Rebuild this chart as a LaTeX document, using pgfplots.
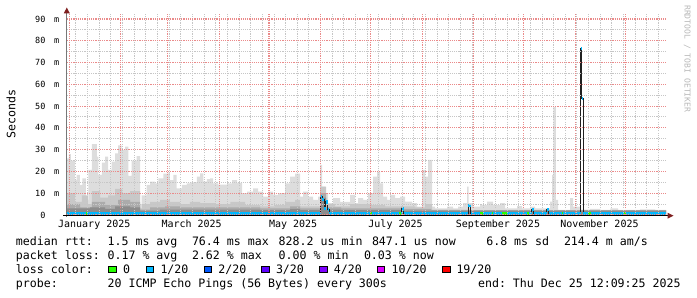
\documentclass[border=0pt]{standalone}
\usepackage{pgfplots}
\pgfplotsset{compat=1.18}
\usepackage{fontspec}
\setmonofont{DejaVu Sans Mono}
\definecolor{smokeA}{HTML}{DDDDDD}
\definecolor{smokeB}{HTML}{C8C8C8}
\definecolor{smokeC}{HTML}{ABABAB}
\definecolor{smokeD}{HTML}{8C8C8C}
\definecolor{lossA}{HTML}{26FF00}
\definecolor{lossB}{HTML}{00B8FF}
\definecolor{lossC}{HTML}{0059FF}
\definecolor{lossD}{HTML}{5E00FF}
\definecolor{lossE}{HTML}{7E00FF}
\definecolor{lossF}{HTML}{DD00FF}
\definecolor{lossG}{HTML}{FF0000}
\definecolor{mgrid}{HTML}{EA8A8A}
\definecolor{ngrid}{HTML}{C6C6C6}
\definecolor{arrowc}{HTML}{7F1F1F}
\definecolor{yaxisc}{HTML}{777777}
\definecolor{wmark}{HTML}{B8B8B8}
\definecolor{medc}{HTML}{202020}
\newcommand{\legfont}{\fontsize{11.6bp}{14bp}\selectfont\ttfamily}
\begin{document}
\begin{tikzpicture}[x=1bp,y=1bp]
\useasboundingbox (0,0) rectangle (697,297);
\begin{axis}[
  at={(66.8bp,82bp)}, anchor=south west,
  scale only axis, width=599.2bp, height=202.1bp,
  xmin=-1.5, xmax=358.5, ymin=0, ymax=92.8,
  axis on top,
  axis line style={draw=none},
  major tick length=0pt, minor tick length=0pt,
  tick style={draw=none},
  xtick={15,73.5,134.5,196,257.5,318.5},
  xticklabels={January 2025,March 2025,May 2025,July 2025,September 2025,November 2025},
  xticklabel style={font=\fontsize{10bp}{12bp}\selectfont\ttfamily, anchor=base, inner sep=0pt, yshift=-12.9bp},
  minor xtick={4,11,...,354},
  extra x ticks={0,31,59,90,120,151,181,212,243,273,304,334},
  extra x tick labels={},
  extra x tick style={grid=major},
  xminorgrids=true,
  ytick={0,10,...,90},
  yticklabels={0\hspace{8.7bp}\hphantom{m},10\hspace{8.7bp}m,20\hspace{8.7bp}m,30\hspace{8.7bp}m,40\hspace{8.7bp}m,50\hspace{8.7bp}m,60\hspace{8.7bp}m,70\hspace{8.7bp}m,80\hspace{8.7bp}m,90\hspace{8.7bp}m},
  yticklabel style={font=\fontsize{8.5bp}{10bp}\selectfont\ttfamily, anchor=east, inner sep=0pt, xshift=-7.4bp},
  minor ytick={5,15,...,85},
  ymajorgrids=true, yminorgrids=true,
  major grid style={mgrid, line width=1.1bp, dash pattern=on 1.1bp off 1.1bp},
  minor grid style={ngrid, line width=1bp, dash pattern=on 1.1bp off 1.1bp},
]
% lightest smoke (max ping)
\addplot[const plot mark left, fill=smokeA, draw=none] coordinates {
(-1.5,26) (-0.2,28) (1.0,25) (3.4,16) (4.4,18.4) (6.4,13.8) (7.8,16.8) (9.9,7) (11.4,20.7) (13.5,32.6) (16.5,26.8) (17.4,18.4) (19.5,24) (21.5,26.8) (23.4,20.7) (25.5,24.5) (27.5,28.3) (29.4,32) (31.5,29.8) (33.5,31.4) (35.5,18) (37.5,25) (40.5,27) (42.5,5) (43.5,9) (46.5,13.8) (48.5,15.3) (51.5,14.5) (53.5,16.8) (56.5,19) (59.5,19.5) (60.5,16) (62.5,18.4) (64.5,12.2) (67.6,13.8) (70.6,14.5) (72.5,15) (76.6,17.6) (78.6,19.1) (80.5,15.3) (82.6,16.5) (84.6,16.8) (86.4,14.5) (89.4,14) (94.8,14.5) (97.8,16) (100.8,14.8) (103.8,10) (106.8,10.7) (110.4,12.2) (113.4,10.7) (116.4,8.4) (119.4,10.7) (122.4,9.2) (125.4,10) (129.6,14.5) (132.6,17.6) (135.6,19) (138.7,8.4) (140.5,10.7) (143.5,8.4) (146.5,6.9) (149.5,8.4) (150.7,23) (151.9,13) (153.7,10) (155.5,5.4) (158.5,7.7) (162.7,6) (168.7,9.2) (171.7,5.4) (173.5,7.7) (176.5,6.9) (179.5,10) (182.5,17.6) (184.9,19.9) (186.7,14.5) (188.5,8.4) (190.9,6.9) (192.7,9.2) (195.7,7.7) (198.7,8.4) (201.7,6.1) (206.0,5.4) (209.0,3.8) (212.0,20.7) (213.8,17.6) (215.6,25.3) (218.0,3.8) (219.8,3) (227.0,3.8) (230.6,3) (233.6,3.8) (236.6,5.4) (239.0,13) (239.9,5.4) (242.6,3.8) (246.8,4.6) (251.0,6.1) (254.6,4.6) (258.8,5.4) (261.9,3) (269.1,4.1) (272.1,3) (276.9,3.8) (279.9,3) (288.9,6.1) (290.1,18.4) (290.9,49.7) (292.3,6.9) (293.7,2.3) (300.9,7.7) (302.7,3.8) (306.9,2.5) (312.9,2.8) (319.0,2.3) (325,3) (329.8,2.3) (343,2.6) (352,2.3) (358.5,2.3)
} \closedcycle;
% medium smoke
\addplot[const plot mark left, fill=smokeB, draw=none] coordinates {
(-1.5,10) (3.4,6) (7.6,9) (11.2,5) (13.6,11) (18.5,8) (23.3,9) (27.5,12) (31.7,10) (36.6,11) (42.5,3) (43.7,5) (48.5,6) (54.5,7) (60.5,6) (66.5,5) (72.5,6) (78.6,5.5) (87.6,5) (96.7,6) (105.6,4.5) (114.6,4) (123.6,4.5) (129.6,6) (135.6,7) (138.7,4) (150.7,13) (154.3,5) (159.7,4) (168.7,5) (180.7,4.5) (189.7,4) (207.8,3.5) (213.8,5) (218.0,2.5) (240.8,2.2) (358.5,2.2)
} \closedcycle;
% darker smoke
\addplot[const plot mark left, fill=smokeC, draw=none] coordinates {
(-1.5,5) (6.5,3.5) (13.6,6) (21.5,4.5) (29.4,7) (36.6,6) (42.5,2.5) (48.5,3.5) (57.5,4) (66.5,3.5) (78.6,3.5) (96.7,3.5) (114.6,3) (132.6,4) (138.7,3) (150.7,10) (154.3,3.5) (163.3,3) (199.5,3.8) (200.5,2.8) (217.6,2.2) (358.5,2.2)
} \closedcycle;
% darkest smoke
\addplot[const plot mark left, fill=smokeD, draw=none] coordinates {
(-1.5,3) (12.5,3.5) (21.5,2.8) (27.5,4) (36.6,3.5) (42.5,2) (54.5,2.5) (114.6,2.2) (132.6,2.8) (138.7,2.2) (150.7,8) (154.3,2.5) (163.3,2.2) (199.5,3.5) (200.5,2) (358.5,2)
} \closedcycle;
% median line
\addplot[const plot mark left, draw=medc, line width=0.9bp] coordinates {
(-1.5,0.8) (151.0,8.4) (151.9,7) (153.1,3) (154.0,6) (155.2,2.5) (156.1,0.8) (199.8,2.8) (200.8,0.8) (239.8,4.3) (241.2,0.8) (277.9,2.6) (278.9,0.8) (286.9,2.4) (288.1,0.8) (307.2,76.4) (307.8,53.6) (308.7,0.8) (358.5,0.8)
};
% median band coloured by loss (1/20)
\addplot[jump mark left, draw=lossB, line width=3.3bp] coordinates {
(-1.5,0.8) (151.0,8.4) (151.9,7) (153.1,3) (154.0,6) (155.2,2.5) (156.1,0.8) (199.8,2.8) (200.8,0.8) (239.8,4.3) (241.2,0.8) (277.9,2.6) (278.9,0.8) (286.9,2.4) (288.1,0.8) (307.2,76.4) (307.8,53.6) (308.7,0.8) (358.5,0.8)
};
% loss 0 pieces
\addplot[draw=lossA, line width=3.3bp, unbounded coords=jump] coordinates {
(10.0,0.8) (10.6,0.8) (10.6,nan)
(180.7,0.8) (181.7,0.8) (181.7,nan)
(198.3,0.8) (199.5,0.8) (199.5,nan)
(246.8,0.8) (248.8,0.8) (248.8,nan)
(253.9,0.8) (254.8,0.8) (254.8,nan)
(259.9,0.8) (262.9,0.8) (262.9,nan)
(274.9,0.8) (275.9,0.8) (275.9,nan)
(295.9,0.8) (296.9,0.8) (296.9,nan)
(311.9,0.8) (313.4,0.8) (313.4,nan)
(333.4,0.8) (334.4,0.8)
};
\end{axis}
% axes with arrows
\draw[line width=1.1bp, yaxisc] (66.8,80) -- (66.8,284);
\fill[arrowc] (63.8,283.7) -- (69.8,283.7) -- (66.8,289.5) -- cycle;
\draw[line width=1.3bp, black] (63,81.3) -- (668,81.3);
\fill[arrowc] (667.5,84.3) -- (667.5,78.3) -- (673.5,81.3) -- cycle;
% axis title and watermark
\node[rotate=90, font=\legfont, inner sep=0pt] at (11,183) {Seconds};
\node[rotate=-90, anchor=west, inner sep=0pt, font=\fontsize{8.1bp}{9bp}\selectfont\ttfamily, text=wmark] at (687.2,292) {RRDTOOL / TOBI OETIKER};
% legend rows
\begin{scope}[every node/.style={anchor=base west, inner sep=0pt, font=\legfont}]
\node at (15.8,51.7) {median rtt:};
\node at (107.4,51.7) {1.5 ms avg};
\node at (191.8,51.7) {76.4 ms max};
\node at (278.5,51.7) {828.2 us min};
\node at (371.8,51.7) {847.1 us now};
\node at (486.1,51.7) {6.8 ms sd};
\node at (563.8,51.7) {214.4 m am/s};
\node at (15.8,37.2) {packet loss:};
\node at (107.4,37.2) {0.17 \% avg};
\node at (191.8,37.2) {2.62 \% max};
\node at (278.5,37.2) {0.00 \% min};
\node at (363.8,37.2) {0.03 \% now};
\node at (15.8,23.7) {loss color:};
\node at (123.0,23.7) {0};
\node at (160.3,23.7) {1/20};
\node at (218.1,23.7) {2/20};
\node at (275.8,23.7) {3/20};
\node at (333.6,23.7) {4/20};
\node at (391.4,23.7) {10/20};
\node at (456.3,23.7) {19/20};
\node at (15.8,9.5) {probe:};
\node at (107.4,9.5) {20 ICMP Echo Pings (56 Bytes) every 300s};
\node[anchor=base east] at (680.8,9.5) {end: Thu Dec 25 12:09:25 2025};
\end{scope}
% loss colour boxes
\filldraw[fill=lossA, draw=black, line width=0.9bp] (108.5,24.1) rectangle (116.0,31.0);
\filldraw[fill=lossB, draw=black, line width=0.9bp] (146.3,24.1) rectangle (153.8,31.0);
\filldraw[fill=lossC, draw=black, line width=0.9bp] (204.1,24.1) rectangle (211.6,31.0);
\filldraw[fill=lossD, draw=black, line width=0.9bp] (261.8,24.1) rectangle (269.3,31.0);
\filldraw[fill=lossE, draw=black, line width=0.9bp] (319.6,24.1) rectangle (327.1,31.0);
\filldraw[fill=lossF, draw=black, line width=0.9bp] (377.4,24.1) rectangle (384.9,31.0);
\filldraw[fill=lossG, draw=black, line width=0.9bp] (442.7,24.1) rectangle (450.2,31.0);
\end{tikzpicture}
\end{document}
